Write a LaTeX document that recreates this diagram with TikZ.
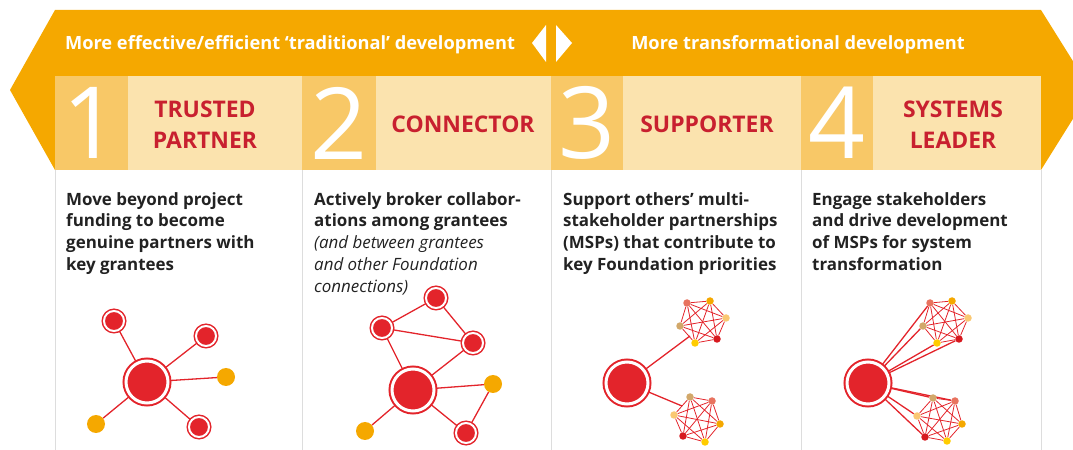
\documentclass[tikz,border=0pt]{standalone}
\usepackage{fontspec}
\setmainfont{Open Sans}
\usetikzlibrary{backgrounds}

\definecolor{banner}{HTML}{F5A800}
\definecolor{numbox}{HTML}{F8C867}
\definecolor{rolebox}{HTML}{FBE3AE}
\definecolor{rolered}{HTML}{C8202F}
\definecolor{netred}{HTML}{E3242B}
\definecolor{textdark}{HTML}{222222}
\definecolor{colline}{HTML}{DDDDDD}
\definecolor{salmon}{HTML}{E8735F}
\definecolor{mspor}{HTML}{F5A800}
\definecolor{msplight}{HTML}{FAC873}
\definecolor{mspdark}{HTML}{D7191F}
\definecolor{mspyel}{HTML}{FFCC00}
\definecolor{msptan}{HTML}{D2A86A}

\newcommand\aside[1]{{\mdseries\itshape #1}}

\begin{document}
\begin{tikzpicture}[x=1bp,y=-1bp,
	head/.style={white,anchor=base,font=\bfseries\fontsize{18.3}{18}\selectfont},
	digit/.style={white,font=\fontsize{100}{100}\selectfont},
	role/.style={rolered,align=center,font=\bfseries\fontsize{23}{31}\selectfont},
	desc/.style={textdark,anchor=north west,inner sep=0pt,align=left,font=\bfseries\fontsize{17}{22}\selectfont},
	hub/.style={circle,inner sep=0pt,minimum size=42bp,fill=netred,draw=netred,line width=2bp,double=white,double distance=3bp},
	grantee/.style={circle,inner sep=0pt,minimum size=20bp,fill=netred,draw=netred,line width=1.5bp,double=white,double distance=2bp},
	other/.style={circle,inner sep=0pt,minimum size=18bp,fill=banner},
	msp/.style={circle,inner sep=0pt,minimum size=7.5bp,fill=#1},
	link/.style={netred,line width=1.3bp},
	mesh/.style={netred,line width=0.8bp}]
	\useasboundingbox (0,0) rectangle (1073,450);
	\clip (0,0) rectangle (1073,450);
	% banner
	\fill[banner] (55,10) -- (1041,10) -- (1091,90) -- (1041,170) -- (55,170) -- (10,90) -- cycle;
	\fill[white] (546,25) -- (532,43) -- (546,62) -- cycle;
	\fill[white] (556,25) -- (572,43) -- (556,62) -- cycle;
	\node[head] (left) at (290,50) {More effective/efficient ‘traditional’ development};
	\node[head] (right) at (798,50) {More transformational development};
	% header boxes
	\fill[numbox] (55,76) rectangle (128,170);
	\fill[rolebox] (128,76) rectangle (302,170);
	\fill[numbox] (302,76) rectangle (376,170);
	\fill[rolebox] (376,76) rectangle (551,170);
	\fill[numbox] (551,76) rectangle (623,170);
	\fill[rolebox] (623,76) rectangle (801,170);
	\fill[numbox] (801,76) rectangle (873,170);
	\fill[rolebox] (873,76) rectangle (1041,170);
	\node[digit] (n1) at (91,123) {1};
	\node[digit] (n2) at (339,123) {2};
	\node[digit] (n3) at (587,123) {3};
	\node[digit] (n4) at (837,123) {4};
	\node[role] (r1) at (205,125) {TRUSTED\\PARTNER};
	\node[role] (r2) at (463,124) {CONNECTOR};
	\node[role] (r3) at (707,124) {SUPPORTER};
	\node[role] (r4) at (953,125) {SYSTEMS\\LEADER};
	% columns
	\draw[colline] (55,170) -- (55,450);
	\draw[colline] (302,170) -- (302,450);
	\draw[colline] (551,170) -- (551,450);
	\draw[colline] (801,170) -- (801,450);
	\draw[colline] (1041,170) -- (1041,450);
	% texts
	\node[desc] (d1) at (66,192) {Move beyond project\\funding to become\\genuine partners with\\key grantees};
	\node[desc] (d2) at (314,192) {Actively broker collabor-\\ations among grantees\\\aside{(and between grantees}\\\aside{and other Foundation}\\\aside{connections)}};
	\node[desc] (d3) at (563,192) {Support others’ multi-\\stakeholder partnerships\\(MSPs) that contribute to\\key Foundation priorities};
	\node[desc] (d4) at (812,192) {Engage stakeholders\\and drive development\\of MSPs for system\\transformation};
	% trusted partner
	\node[hub] (h1) at (147,382) {};
	\node[grantee] (g11) at (114,321) {};
	\node[grantee] (g12) at (206,336) {};
	\node[grantee] (g13) at (199,427) {};
	\node[other] (o11) at (226,377) {};
	\node[other] (o12) at (96,424) {};
	% connector
	\node[hub] (h2) at (413,390) {};
	\node[grantee] (g21) at (436,298) {};
	\node[grantee] (g22) at (382,328) {};
	\node[grantee] (g23) at (473,343) {};
	\node[grantee] (g24) at (466,433) {};
	\node[other] (o21) at (493,384) {};
	\node[other] (o22) at (365,431) {};
	% supporter
	\node[hub] (h3) at (627,383) {};
	\node[msp=salmon] (t1) at (687,303) {};
	\node[msp=mspor] (t2) at (710,301) {};
	\node[msp=msplight] (t3) at (726,318) {};
	\node[msp=mspdark] (t4) at (717,339) {};
	\node[msp=mspyel] (t5) at (695,343) {};
	\node[msp=msptan] (t6) at (680,326) {};
	\node[msp=msptan] (b1) at (690,397) {};
	\node[msp=salmon] (b2) at (712,401) {};
	\node[msp=mspor] (b3) at (720,424) {};
	\node[msp=mspyel] (b4) at (705,442) {};
	\node[msp=mspdark] (b5) at (683,436) {};
	\node[msp=msplight] (b6) at (674,415) {};
	\coordinate (tj) at (690,336);
	\coordinate (bj) at (682,406);
	% systems leader
	\node[hub] (h4) at (868,383) {};
	\node[msp=salmon] (u1) at (930,303) {};
	\node[msp=mspor] (u2) at (952,301) {};
	\node[msp=msplight] (u3) at (968,318) {};
	\node[msp=mspdark] (u4) at (959,339) {};
	\node[msp=mspyel] (u5) at (937,343) {};
	\node[msp=msptan] (u6) at (923,326) {};
	\node[msp=msptan] (v1) at (933,398) {};
	\node[msp=salmon] (v2) at (955,401) {};
	\node[msp=mspor] (v3) at (962,424) {};
	\node[msp=mspyel] (v4) at (947,441) {};
	\node[msp=mspdark] (v5) at (925,437) {};
	\node[msp=msplight] (v6) at (917,416) {};
	% links
	\begin{pgfonlayer}{background}
		\draw[link] (h1.center) -- (g11.center);
		\draw[link] (h1.center) -- (g12.center);
		\draw[link] (h1.center) -- (g13.center);
		\draw[link] (h1.center) -- (o11);
		\draw[link] (h1.center) -- (o12);
		\draw[link] (g21.center) -- (g22.center);
		\draw[link] (g21.center) -- (g23.center);
		\draw[link] (g22.center) -- (g23.center);
		\draw[link] (h2.center) -- (g22.center);
		\draw[link] (h2.center) -- (g23.center);
		\draw[link] (h2.center) -- (g24.center);
		\draw[link] (h2.center) -- (o21);
		\draw[link] (g24.center) -- (o21);
		\draw[link] (h2.center) -- (o22);
		\draw[link] (h3.center) -- (tj);
		\draw[link] (h3.center) -- (bj);
		\draw[link] (h4.center) -- (u1);
		\draw[link] (h4.center) -- (u6);
		\draw[link] (h4.center) -- (u5);
		\draw[link] (h4.center) -- (u4);
		\draw[link] (h4.center) -- (v1);
		\draw[link] (h4.center) -- (v2);
		\draw[link] (h4.center) -- (v6);
		\draw[link] (h4.center) -- (v5);
		\foreach \c in {t,b,u,v}
			\foreach \i in {1,...,5} {
				\pgfmathtruncatemacro\k{\i+1}
				\foreach \j in {\k,...,6}
					\draw[mesh] (\c\i) -- (\c\j);
			}
	\end{pgfonlayer}
\end{tikzpicture}
\end{document}
